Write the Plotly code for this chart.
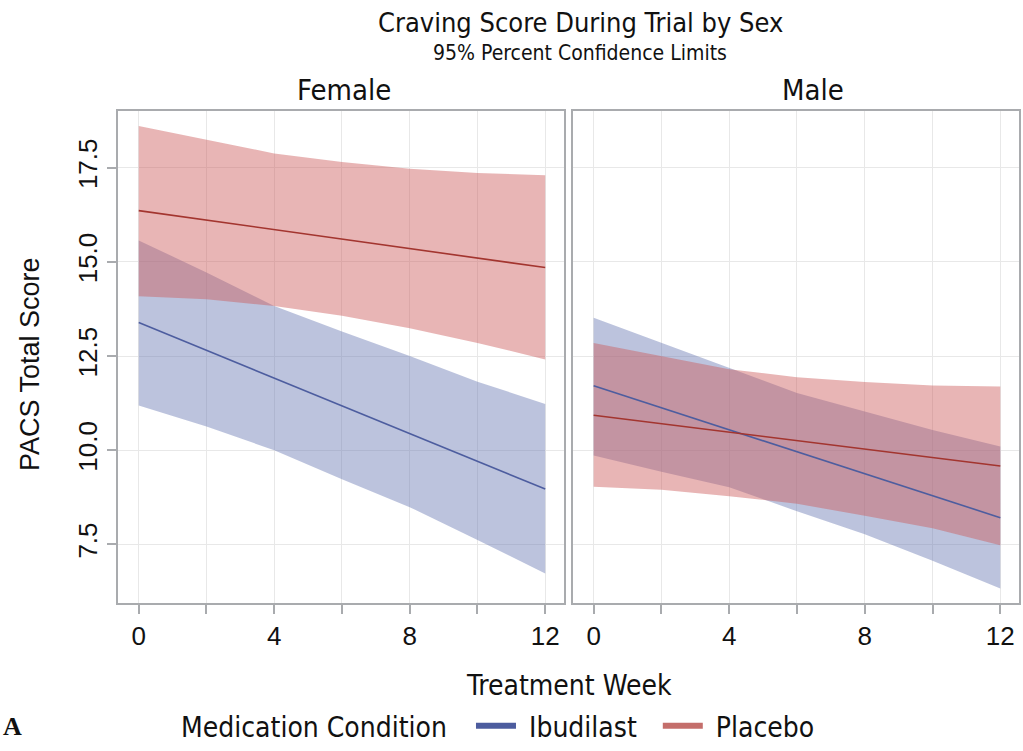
import plotly.graph_objects as go

# ---------------- data ----------------
weeks = [0, 2, 4, 6, 8, 10, 12]
fit_weeks = [0, 12]

# Female
f_ibu_fit = [13.39, 8.97]
f_ibu_upper = [15.57, 14.72, 13.83, 13.15, 12.50, 11.82, 11.23]
f_ibu_lower = [11.19, 10.63, 10.00, 9.23, 8.49, 7.62, 6.73]
f_pla_fit = [16.36, 14.85]
f_pla_upper = [18.61, 18.24, 17.88, 17.65, 17.47, 17.36, 17.30]
f_pla_lower = [14.09, 14.01, 13.83, 13.57, 13.24, 12.85, 12.41]

# Male
m_ibu_fit = [11.71, 8.21]
m_ibu_upper = [13.52, 12.85, 12.20, 11.52, 11.03, 10.54, 10.10]
m_ibu_lower = [9.86, 9.43, 9.02, 8.38, 7.77, 7.07, 6.33]
m_pla_fit = [10.93, 9.58]
m_pla_upper = [12.85, 12.50, 12.15, 11.94, 11.81, 11.72, 11.69]
m_pla_lower = [9.03, 8.95, 8.78, 8.58, 8.26, 7.93, 7.48]

groups = ["Ibudilast", "Placebo"]
panels = ["Female", "Male"]
x_tickvals = [0, 2, 4, 6, 8, 10, 12]
x_ticktext = ["0", "", "4", "", "8", "", "12"]
y_tickvals = [7.5, 10.0, 12.5, 15.0, 17.5]
y_ticktext = ["7.5", "10.0", "12.5", "15.0", "17.5"]

# ---------------- style ----------------
line_col = {"Ibudilast": "#4d5d9f", "Placebo": "#a3352f"}
fill_col = {"Ibudilast": "rgba(106,122,180,0.45)", "Placebo": "rgba(205,90,90,0.45)"}
legend_col = {"Ibudilast": "#4c5c9e", "Placebo": "#c46e6b"}
NARROW = "Liberation Sans Narrow, DejaVu Sans Condensed, Arial Narrow, sans-serif"
SANS = "Liberation Sans, Arial, sans-serif"

fig = go.Figure()

data = {
    ("Female", "Ibudilast"): (f_ibu_fit, f_ibu_upper, f_ibu_lower),
    ("Female", "Placebo"): (f_pla_fit, f_pla_upper, f_pla_lower),
    ("Male", "Ibudilast"): (m_ibu_fit, m_ibu_upper, m_ibu_lower),
    ("Male", "Placebo"): (m_pla_fit, m_pla_upper, m_pla_lower),
}

axes = {"Female": ("x", "y"), "Male": ("x2", "y2")}

for p in panels:
    xa, ya = axes[p]
    for g in groups:
        fit, up, lo = data[(p, g)]
        fig.add_trace(go.Scatter(
            x=weeks + weeks[::-1], y=up + lo[::-1], fill="toself",
            fillcolor=fill_col[g], line=dict(width=0), mode="lines",
            hoverinfo="skip", showlegend=False, xaxis=xa, yaxis=ya))
    for g in groups:
        fit, up, lo = data[(p, g)]
        fig.add_trace(go.Scatter(
            x=fit_weeks, y=fit, mode="lines",
            line=dict(color=line_col[g], width=1.6),
            showlegend=False, xaxis=xa, yaxis=ya))

# legend-only entries
for g in groups:
    fig.add_trace(go.Scatter(x=[None], y=[None], mode="lines",
                             name="\u00a0" + g + "\u00a0\u00a0",
                             line=dict(color=legend_col[g], width=6),
                             xaxis="x", yaxis="y"))

W, H = 1023, 751
top_px, bot_px = 113, 613
f_dom = [118.4 / W, 564.2 / W]
m_dom = [573.3 / W, 1019.3 / W]
y_dom = [(H - bot_px) / H, (H - top_px) / H]

common_x = dict(range=[-0.6, 12.56], tickmode="array", tickvals=x_tickvals,
                ticktext=x_ticktext, ticks="outside", ticklen=9, tickwidth=1.5,
                tickcolor="#a9abae", showgrid=True, gridcolor="#e8e8e8",
                gridwidth=1.2, zeroline=False, showline=True, mirror=True,
                linecolor="#a9abae", linewidth=2,
                tickfont=dict(family=SANS, size=26, color="#111"),
                automargin=False)
common_y = dict(range=[5.94, 19.0], tickmode="array", tickvals=y_tickvals,
                ticktext=y_ticktext, tickwidth=1.5,
                tickcolor="#a9abae", showgrid=True, gridcolor="#e8e8e8",
                gridwidth=1.2, zeroline=False, showline=True, mirror=True,
                linecolor="#a9abae", linewidth=2, domain=y_dom,
                automargin=False)

fig.update_layout(
    width=W, height=H,
    margin=dict(l=0, r=0, t=0, b=0),
    paper_bgcolor="white", plot_bgcolor="white",
    xaxis=dict(domain=f_dom, anchor="y", **common_x),
    xaxis2=dict(domain=m_dom, anchor="y2", **common_x),
    yaxis=dict(anchor="x", tickangle=-90, showticklabels=True, ticks="outside",
               ticklen=9,
               tickfont=dict(family=SANS, size=26, color="#111"), **common_y),
    yaxis2=dict(anchor="x2", showticklabels=False, ticks="", **common_y),
    showlegend=True,
    legend=dict(orientation="h", x=179 / W, xanchor="left",
                y=(H - 738) / H, yanchor="middle",
                title=dict(text="Medication Condition  ",
                           font=dict(family=NARROW, size=28, color="#111")),
                font=dict(family=NARROW, size=28, color="#111"),
                bgcolor="rgba(0,0,0,0)", itemwidth=40, tracegroupgap=0),
)

ann = [
    dict(text="Craving Score During Trial by Sex", x=580 / W, y=(H - 23) / H,
         font=dict(family=NARROW, size=27, color="#111")),
    dict(text="95% Percent Confidence Limits", x=580 / W, y=(H - 54) / H,
         font=dict(family=NARROW, size=21, color="#111")),
    dict(text="Female", x=344 / W, y=(H - 91) / H,
         font=dict(family=NARROW, size=29, color="#111")),
    dict(text="Male", x=813 / W, y=(H - 91) / H,
         font=dict(family=NARROW, size=29, color="#111")),
    dict(text="Treatment Week", x=569 / W, y=(H - 697) / H,
         font=dict(family=NARROW, size=28, color="#111")),
    dict(text="PACS Total Score", x=30 / W, y=(H - 370) / H, textangle=-90,
         font=dict(family=SANS, size=27, color="#111")),
    dict(text="<b>A</b>", x=12 / W, y=(H - 738) / H,
         font=dict(family="Liberation Serif, Times New Roman, serif", size=26, color="#111")),
]
for a in ann:
    a.update(xref="paper", yref="paper", showarrow=False,
             xanchor="center", yanchor="middle")
fig.update_layout(annotations=ann)

fig.write_html("out.html")
